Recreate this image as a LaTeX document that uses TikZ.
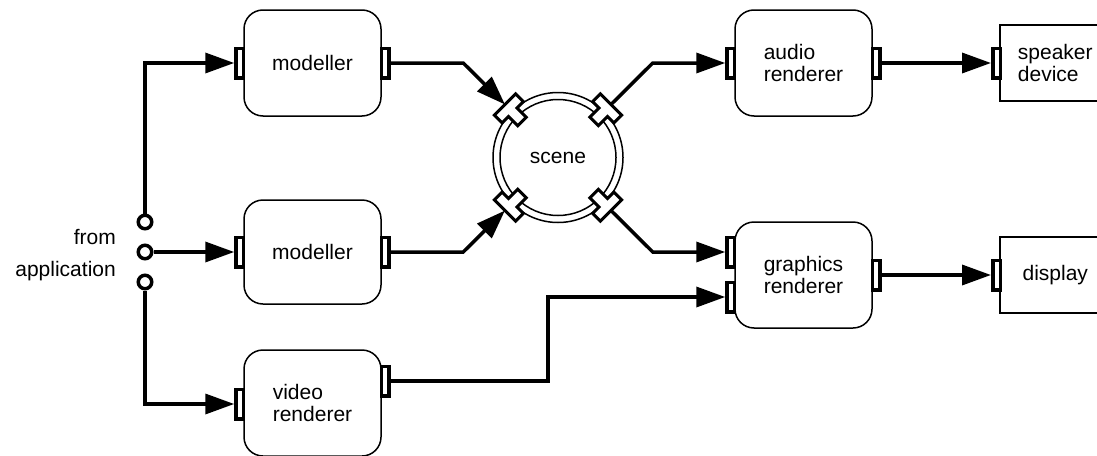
\documentclass[tikz,border=0pt]{standalone}
\usepackage{fontspec}
\setmainfont{Liberation Sans}
\usetikzlibrary{arrows.meta,calc}
\begin{document}
\begin{tikzpicture}[x=1pt,y=-1pt,
  labelfont/.style={font=\fontsize{21}{22}\selectfont},
  box/.style={draw, line width=1.5pt, rounded corners=19pt, minimum width=137pt,
    minimum height=106pt, inner sep=0pt, align=left, labelfont},
  plainbox/.style={draw, line width=1.5pt, minimum width=111pt, minimum height=76pt,
    inner sep=0pt, align=left, labelfont},
  bport/.style={draw, fill=white, line width=3.5pt, minimum width=7.5pt, minimum height=29.5pt,
    inner sep=0pt},
  jack/.style={circle, draw, fill=white, line width=3.5pt, minimum size=13.5pt, inner sep=0pt},
  conn/.style={line width=3.5pt},
  arr/.style={conn, -{Triangle[length=29pt,width=20pt]}},
  ring/.style={line width=1.5pt},
  sport/.pic={\draw[fill=white, line width=3pt]
    (75,-15) -- (75,15) -- (64,15) -- (64,6) -- (51,6) -- (51,-6) -- (64,-6) -- (64,-15) -- cycle;}
]
\useasboundingbox (0,0) rectangle (1097,455);

% processing boxes
\node[box] (m1) at (312.5,63) {modeller};
\node[box, minimum height=104pt] (m2) at (312.5,252) {modeller};
\node[box] (vr) at (312.5,403) {video\\renderer};
\node[box] (ar) at (803.5,63) {audio\\renderer};
\node[box] (gr) at (803.5,275) {graphics\\renderer};
\node[plainbox, anchor=west] (sp) at (999,63) {speaker\\device};
\node[plainbox, anchor=west] (dp) at (999,275) {display};

% scene with double ring
\node[circle, minimum size=130pt, inner sep=0pt, labelfont] (scene) at (558,157.5) {scene};
\draw[ring] (scene.center) circle[radius=65pt];
\draw[ring] (scene.center) circle[radius=58pt];
\pic[rotate=135] at (scene.center) {sport};
\pic[rotate=45] at (scene.center) {sport};
\pic[rotate=225] at (scene.center) {sport};
\pic[rotate=315] at (scene.center) {sport};

% scene port faces and bends
\coordinate (sTL) at ($(scene.center)+(225:75)$);
\coordinate (sTR) at ($(scene.center)+(315:75)$);
\coordinate (sBL) at ($(scene.center)+(135:75)$);
\coordinate (sBR) at ($(scene.center)+(45:75)$);
\coordinate (kTL) at ($(scene.center)+(225:134)$);
\coordinate (kTR) at ($(scene.center)+(315:134)$);
\coordinate (kBL) at ($(scene.center)+(135:134)$);
\coordinate (kBR) at ($(scene.center)+(45:134)$);
\coordinate (vk) at (548,0);

% box ports
\node[bport] (m1i) at ($(m1.west)+(-3.5,0)$) {};
\node[bport] (m1o) at ($(m1.east)+(3.5,0)$) {};
\node[bport] (m2i) at ($(m2.west)+(-3.5,0)$) {};
\node[bport] (m2o) at ($(m2.east)+(3.5,0)$) {};
\node[bport] (vri) at ($(vr.west)+(-3.5,1)$) {};
\node[bport] (vro) at ($(vr.east)+(3.5,-22)$) {};
\node[bport] (ai) at ($(ar.west)+(-3.5,0)$) {};
\node[bport] (ao) at ($(ar.east)+(3.5,0)$) {};
\node[bport] (g1i) at ($(gr.west)+(-3.5,-23)$) {};
\node[bport] (g2i) at ($(gr.west)+(-3.5,22)$) {};
\node[bport] (go) at ($(gr.east)+(3.5,0)$) {};
\node[bport] (spi) at ($(sp.west)+(-2.5,0)$) {};
\node[bport] (dpi) at ($(dp.west)+(-2.5,0)$) {};

% application inputs
\node[jack] (j1) at (145,222) {};
\node[jack] (j2) at (145,252) {};
\node[jack] (j3) at (145,282) {};
\node[align=right, anchor=east, inner sep=0pt, font=\fontsize{21}{32}\selectfont]
  (app) at (116,255) {from\\application};

% connectors
\draw[arr] (j1.north) |- (m1i.west);
\draw[arr] (j2.east) -- (m2i.west);
\draw[arr] (j3.south) |- (vri.west);
\draw[arr] (m1o.east) -- (kTL |- m1o.east) -- (sTL);
\draw[arr] (m2o.east) -- (kBL |- m2o.east) -- (sBL);
\draw[arr] (sTR) -- (kTR |- ai.west) -- (ai.west);
\draw[arr] (sBR) -- (kBR |- g1i.west) -- (g1i.west);
\draw[arr] (vro.east) -| (vk |- g2i.west) -- (g2i.west);
\draw[arr] (ao.east) -- (spi.west);
\draw[arr] (go.east) -- (dpi.west);
\end{tikzpicture}
\end{document}
